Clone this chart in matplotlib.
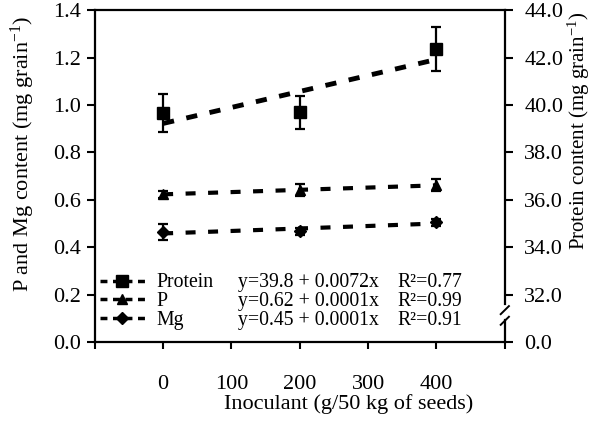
import numpy as np
import matplotlib
matplotlib.use("Agg")
import matplotlib.pyplot as plt
from matplotlib.lines import Line2D

plt.rcParams['font.family'] = ['Liberation Serif', 'DejaVu Serif']
plt.rcParams['mathtext.fontset'] = 'custom'
plt.rcParams['mathtext.rm'] = 'Liberation Serif'
plt.rcParams['mathtext.it'] = 'Liberation Serif:italic'

# ---------------- data ----------------
inoculant = [0, 200, 400]
protein = [39.66, 39.70, 42.36]        # mg grain-1 (right axis)
protein_err = [0.80, 0.70, 0.93]
p_content = [0.624, 0.641, 0.662]      # mg grain-1 (left axis)
p_err = [0.015, 0.025, 0.025]
mg_content = [0.464, 0.468, 0.506]
mg_err = [0.033, 0.015, 0.015]

names = ["Protein", "P", "Mg"]
equations = ["y=39.8 + 0.0072x", "y=0.62 + 0.0001x", "y=0.45 + 0.0001x"]
r2_labels = ["R²=0.77", "R²=0.99", "R²=0.91"]

xticks = [-100, 0, 100, 200, 300, 400, 500]
xtick_labels = ["", "0", "100", "200", "300", "400", ""]
left_ticks = [0.0, 0.2, 0.4, 0.6, 0.8, 1.0, 1.2, 1.4]
right_ticks = [30, 32, 34, 36, 38, 40, 42, 44]
right_labels = ["0.0", "32.0", "34.0", "36.0", "38.0", "40.0", "42.0", "44.0"]

TICK_FS = 16
LABEL_FS = 16
LEG_FS = 14.2
x = np.array(inoculant)
xx = np.array([inoculant[0], inoculant[-1]])

fig = plt.figure(figsize=(5.96, 4.25), dpi=100)
ax = fig.add_axes([0.159, 0.195, 0.688, 0.781])
ax2 = ax.twinx()

# ------------------- trend lines -------------------
dash = (0, (2.4, 3.0))
for vals in (p_content, mg_content):
    k, b = np.polyfit(x, vals, 1)
    ax.plot(xx, b + k * xx, color='black', lw=3.0, ls=dash, zorder=2)
k, b = np.polyfit(x, protein, 1)
ax2.plot(xx, b + k * xx, color='black', lw=3.5, ls=(0, (2.3, 2.6)), zorder=2)

# ------------------- points with error bars -------------------
ekw = dict(fmt='none', ecolor='black', elinewidth=1.6, capsize=3.5, capthick=1.6, zorder=3)
ax.errorbar(x, p_content, yerr=p_err, **ekw)
ax.errorbar(x, mg_content, yerr=mg_err, **ekw)
ax.plot(x, p_content, ls='none', marker='^', ms=7, color='black', zorder=4)
ax.plot(x, mg_content, ls='none', marker='D', ms=6, color='black', zorder=4)
ax2.errorbar(x, protein, yerr=protein_err, **ekw)
ax2.plot(x, protein, ls='none', marker='s', ms=8, color='black', zorder=4)

# ------------------- axes -------------------
ax.set_xlim(-100, 500)
ax.set_ylim(0, 1.4)
ax2.set_ylim(30, 44)
ax.set_xticks(xticks)
ax.set_xticklabels(xtick_labels)
ax.set_yticks(left_ticks)
ax.set_yticklabels([f"{v:.1f}" for v in left_ticks])
ax2.set_yticks(right_ticks)
ax2.set_yticklabels(right_labels)

ax.tick_params(axis='x', direction='out', length=5, width=1.5, pad=19, labelsize=TICK_FS)
ax.tick_params(axis='y', direction='out', length=6, width=1.5, pad=4, labelsize=TICK_FS)
ax2.tick_params(axis='y', direction='out', length=6, width=1.5, pad=8, labelsize=TICK_FS)

for a in (ax, ax2):
    for s in a.spines.values():
        s.set_linewidth(1.6)
ax.spines['right'].set_visible(False)
ax2.spines['left'].set_visible(False)
ax2.spines['top'].set_visible(False)
ax2.spines['bottom'].set_visible(False)
# broken right axis
ax2.spines['right'].set_bounds(31.6, 44)
ax2.plot([1, 1], [30, 30.95], transform=ax2.get_yaxis_transform(), color='black',
         lw=1.6, clip_on=False)
for yb in (31.3, 30.85):
    ax2.plot([0.99, 1.01], [yb - 0.12, yb + 0.22], transform=ax2.get_yaxis_transform(),
             color='black', lw=1.4, clip_on=False)

ax.set_xlabel("Inoculant (g/50 kg of seeds)", fontsize=LABEL_FS)
ax.xaxis.set_label_coords(0.62, -0.158)
ax.set_ylabel("P and Mg content (mg grain$^{-1}$)", fontsize=LABEL_FS)
ax.yaxis.set_label_coords(-0.141, 0.566)
ax2.set_ylabel("Protein content (mg grain$^{-1}$)", fontsize=15)
ax2.yaxis.set_label_coords(1.148, 0.636)

# ------------------- legend -------------------
handles = [
    Line2D([], [], color='black', lw=2.5, ls=(0, (2.0, 1.6)), marker='s', ms=8),
    Line2D([], [], color='black', lw=2.5, ls=(0, (2.0, 1.6)), marker='^', ms=7),
    Line2D([], [], color='black', lw=2.5, ls=(0, (2.0, 1.6)), marker='D', ms=6),
]
leg = ax.legend(handles, names, frameon=False, loc='upper left', fontsize=LEG_FS,
                borderpad=0, borderaxespad=0, labelspacing=-0.02, numpoints=1,
                bbox_to_anchor=(0.012, 0.207), handlelength=2.3, handletextpad=0.6)

# equations and R2 on the same baselines as the legend rows
fig.canvas.draw()
to_ax = ax.transAxes.inverted()
for t, eq, r2 in zip(leg.get_texts(), equations, r2_labels):
    bx, by = t.get_transform().transform(t.get_position())
    yb = to_ax.transform((bx, by))[1]
    ax.text(0.349, yb, eq, transform=ax.transAxes, fontsize=LEG_FS, va='baseline', ha='left')
    ax.text(0.737, yb, r2, transform=ax.transAxes, fontsize=LEG_FS, va='baseline', ha='left')

fig.savefig("out.png", dpi=100)
plt.close(fig)
